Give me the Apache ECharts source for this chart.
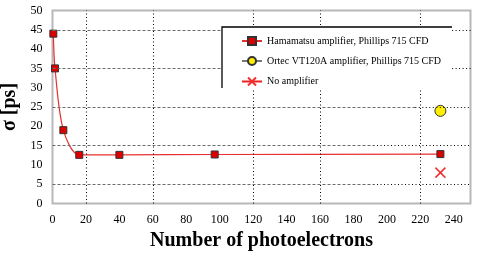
<!DOCTYPE html>
<html>
<head>
<meta charset="utf-8">
<script src="https://cdn.jsdelivr.net/npm/echarts@6/dist/echarts.min.js"></script>
<style>html,body{margin:0;padding:0;background:#fff}#c{width:477px;height:259px}</style>
</head>
<body>
<div id="c"></div>
<script>
// ---- data ----
const seriesNames = [
  'Hamamatsu amplifier, Phillips 715 CFD',
  'Ortec VT120A amplifier, Phillips 715 CFD',
  'No amplifier'
];
const hamX = [0.5, 1.5, 6.5, 16, 40, 97, 232];
const hamY = [44, 35, 19, 12.6, 12.6, 12.7, 12.8];
const ortecX = [232];
const ortecY = [24];
const noAmpX = [232];
const noAmpY = [8];
const yGridValues = [5, 15, 25, 35, 45];
const yGridSplit = [192, 192, 217, 239, 239]; // where dashed grid turns dotted
const xGridValues = [20, 60, 120, 160, 220];
const xAxisMax = 250;
const yAxisMax = 50;

const serif = 'Liberation Serif, Times New Roman, serif';
const zip = (xs, ys) => xs.map((x, i) => [x, ys[i]]);

const gridLines = [];
yGridValues.forEach((v, i) => {
  gridLines.push([{coord: [0, v], lineStyle: {type: [3, 2], color: '#6a6a6a', width: 1}}, {coord: [yGridSplit[i], v]}]);
  gridLines.push([{coord: [yGridSplit[i], v], lineStyle: {type: [1, 2.5], color: '#000', width: 1}}, {coord: [xAxisMax, v]}]);
});
xGridValues.forEach(v => {
  gridLines.push([{coord: [v, 0], lineStyle: {type: [1, 2.5], color: '#000', width: 1}}, {coord: [v, yAxisMax]}]);
});

const chart = echarts.init(document.getElementById('c'));
chart.setOption({
  animation: false,
  backgroundColor: '#fff',
  textStyle: {fontFamily: serif},
  grid: {left: 52.5, right: 6.5, top: 10.5, bottom: 55.5, containLabel: false, outerBoundsMode: 'none',
    show: true, borderColor: '#b8b8b8', borderWidth: 2, backgroundColor: 'transparent'},
  xAxis: {
    type: 'value', min: 0, max: xAxisMax, interval: 20,
    name: 'Number of photoelectrons', nameLocation: 'middle', nameGap: 27,
    nameTextStyle: {fontFamily: serif, fontWeight: 'bold', fontSize: 20, color: '#000'},
    axisLine: {show: false}, axisTick: {show: false}, splitLine: {show: false},
    axisLabel: {fontFamily: serif, fontSize: 12, color: '#000', margin: 10,
      formatter: v => (v % 20 === 0 ? String(v) : '')}
  },
  yAxis: {
    type: 'value', min: 0, max: yAxisMax, interval: 5,
    name: 'σ [ps]', nameLocation: 'middle', nameGap: 33, nameRotate: 90,
    nameTextStyle: {fontFamily: serif, fontWeight: 'bold', fontSize: 20, color: '#000'},
    axisLine: {show: false}, axisTick: {show: false}, splitLine: {show: false},
    axisLabel: {fontFamily: serif, fontSize: 12, color: '#000', margin: 10}
  },
  legend: {
    orient: 'vertical', left: 236, top: 30, z: 10,
    itemWidth: 20, itemHeight: 10, itemGap: 8,
    textStyle: {fontFamily: serif, fontSize: 10, color: '#000', lineHeight: 12},
    data: seriesNames
  },
  graphic: [
    {type: 'rect', z: 8, shape: {x: 222, y: 27, width: 230, height: 61}, style: {fill: '#fff'}},
    {type: 'polyline', z: 9, shape: {points: [[222, 88], [222, 27], [452, 27]]}, style: {stroke: '#000', lineWidth: 1.3, fill: null}}
  ],
  series: [
    {
      type: 'line', name: 'grid', data: [], silent: true, z: 1,
      markLine: {silent: true, symbol: 'none', label: {show: false}, data: gridLines, animation: false}
    },
    {
      type: 'line', name: seriesNames[0], data: zip(hamX, hamY), smooth: 0.3, z: 3,
      symbol: 'rect', symbolSize: 7,
      lineStyle: {color: '#e83030', width: 1.2},
      itemStyle: {color: '#dd0000', borderColor: '#333', borderWidth: 1}
    },
    {
      type: 'line', name: seriesNames[1], data: zip(ortecX, ortecY), z: 3,
      symbol: 'circle', symbolSize: 11,
      lineStyle: {color: '#777', width: 1.5},
      itemStyle: {color: '#ffee00', borderColor: '#333', borderWidth: 1}
    },
    {
      type: 'line', name: seriesNames[2], data: zip(noAmpX, noAmpY), z: 3,
      symbol: 'path://M0,0L10,10M0,10L10,0', symbolSize: 10,
      lineStyle: {color: '#ee2020', width: 1.2},
      itemStyle: {color: 'none', borderColor: '#ee3030', borderWidth: 1.5}
    }
  ]
});
</script>
</body>
</html>
